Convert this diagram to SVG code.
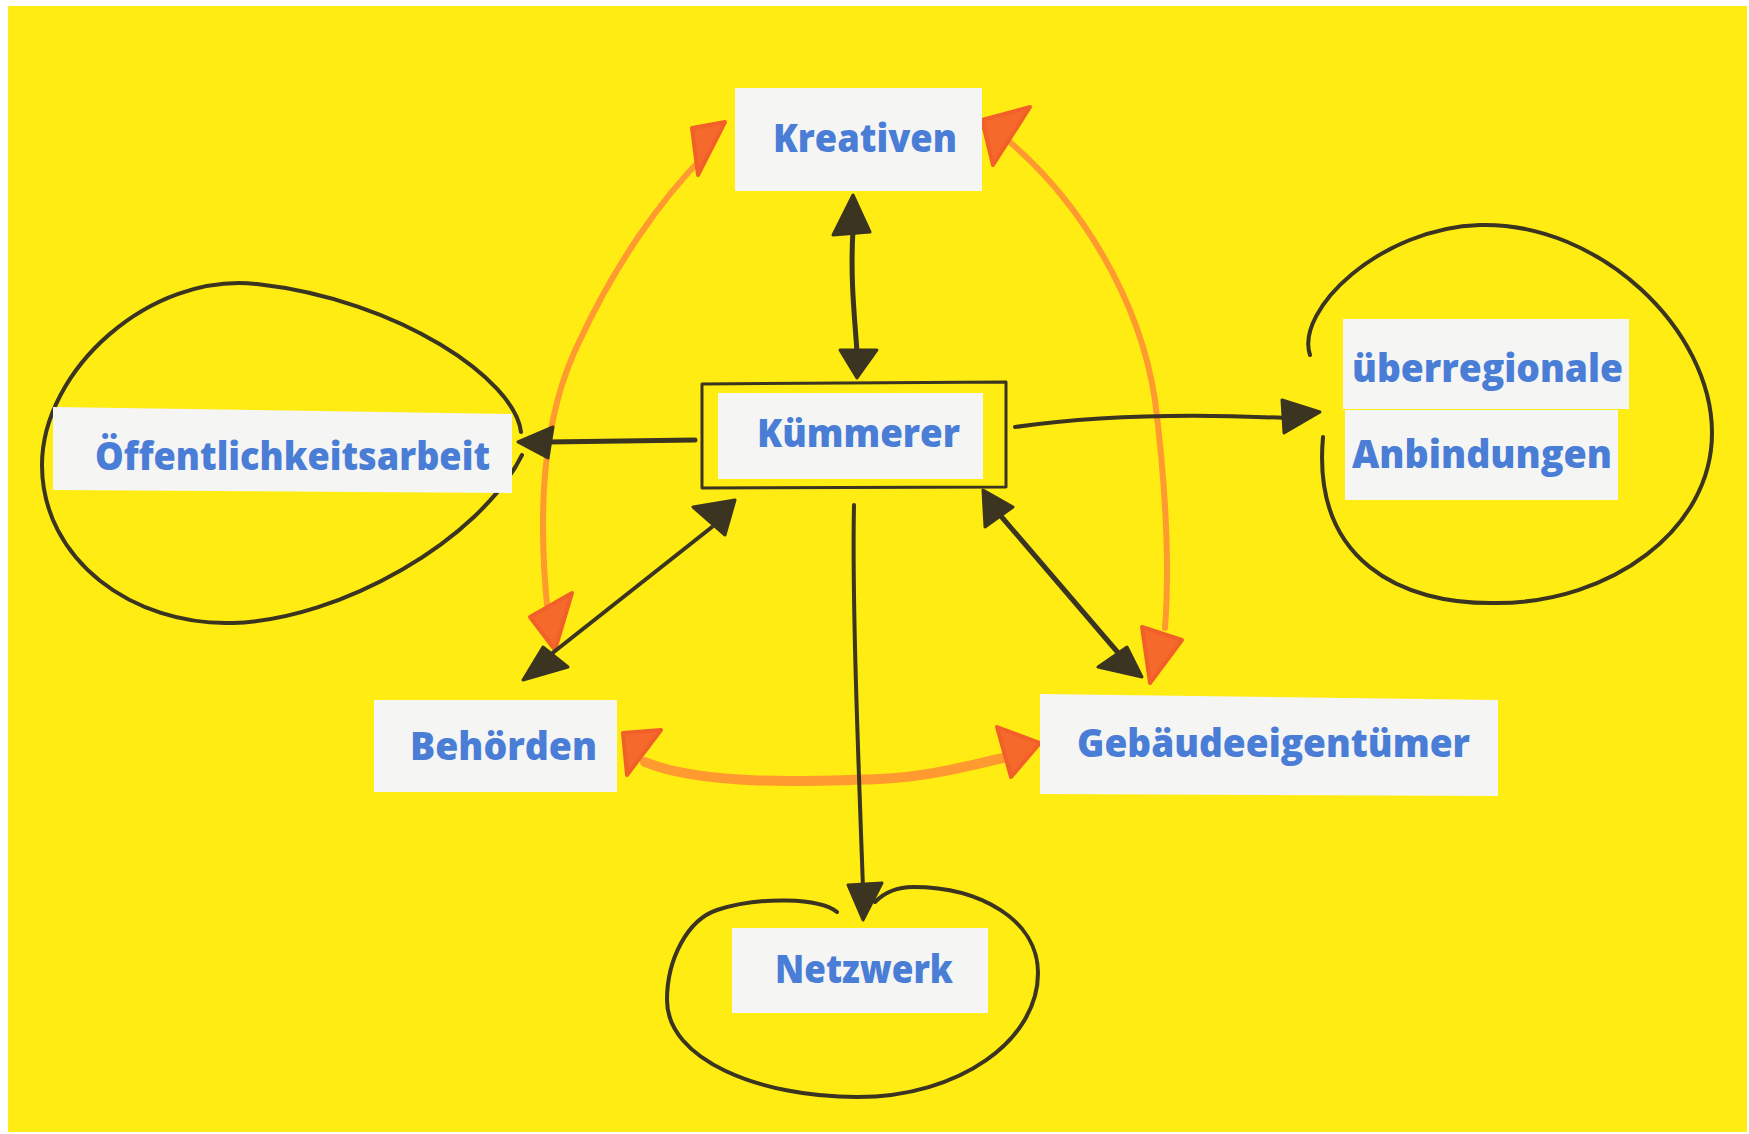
<svg xmlns="http://www.w3.org/2000/svg" width="1749" height="1134" viewBox="0 0 1749 1134">
<defs>
<style>
.box{fill:#F5F5F4}
.lbl{font-family:"Open Sans","Liberation Sans",sans-serif;font-weight:800;font-size:38px;fill:#4A7DD6}
.ink{fill:none;stroke:#3A3420;stroke-width:4;stroke-linecap:round;stroke-linejoin:round}
.shaft{stroke-width:5}
.inkhead{fill:#3A3420;stroke:#3A3420;stroke-width:3;stroke-linejoin:round}
.orange{fill:none;stroke:#FF9A30;stroke-width:6;stroke-linecap:round}
.orangewide{fill:none;stroke:#FF9A30;stroke-width:10;stroke-linecap:round}
.ohead{fill:#F56A2A;stroke:#F2602A;stroke-width:4;stroke-linejoin:round}
</style>
</defs>
<rect x="0" y="0" width="1749" height="1134" fill="#FFFFFF"/>
<rect x="8" y="6" width="1739" height="1126" fill="#FFEC12"/>

<g id="connectors">
  <!-- self loops -->
  <path class="ink" d="M521,432 C515,380 400,300 257,284 C150,272 42,370 42,465 C42,560 133,626 233,623 C340,620 480,540 522,455"/>
  <path class="ink" d="M1310,355 C1295,310 1380,228 1480,225 C1600,222 1712,330 1712,433 C1712,530 1610,603 1497,603 C1400,605 1312,560 1323,437"/>
  <path class="ink" d="M837,912 C820,898 760,896 717,910 C687,920 667,960 667,1000 C667,1060 760,1097 857,1097 C960,1097 1038,1040 1038,973 C1038,920 980,887 913,887 C895,887 882,895 875,902"/>

  <!-- orange arcs -->
  <path class="orange" d="M548,615 C538,520 540,420 580,340 C615,265 660,200 705,155"/>
  <polygon class="ohead" points="692,128 725,122 698,175"/>
  <polygon class="ohead" points="530,617 572,593 555,650"/>
  <path class="orange" d="M1005,138 C1080,200 1140,300 1155,400 C1165,480 1170,560 1165,628"/>
  <polygon class="ohead" points="982,120 1030,107 993,165"/>
  <polygon class="ohead" points="1142,627 1182,640 1150,683"/>
  <path class="orangewide" d="M645,762 C700,785 800,782 880,779 C930,777 970,765 1003,758"/>
  <polygon class="ohead" points="623,733 661,730 627,775"/>
  <polygon class="ohead" points="997,727 1040,743 1011,777"/>

  <!-- black arrows -->
  <path class="ink shaft" d="M853,230 C850,280 855,320 857,352"/>
  <polygon class="inkhead" points="853,195 833,235 870,232"/>
  <polygon class="inkhead" points="857,378 840,350 877,350"/>

  <path class="ink shaft" d="M695,440 L548,442"/>
  <polygon class="inkhead" points="518,442 553,427 548,458"/>

  <path class="ink" d="M1015,427 C1100,415 1200,414 1285,418"/>
  <polygon class="inkhead" points="1320,412 1282,400 1284,433"/>

  <path class="ink" d="M712,527 L550,655"/>
  <polygon class="inkhead" points="693,507 735,500 725,535"/>
  <polygon class="inkhead" points="523,680 543,647 568,667"/>

  <path class="ink shaft" d="M1000,515 L1120,655"/>
  <polygon class="inkhead" points="983,490 985,527 1013,507"/>
  <polygon class="inkhead" points="1142,677 1098,667 1127,647"/>

  <path class="ink" d="M854,505 C852,600 858,750 863,888"/>
  <polygon class="inkhead" points="863,920 848,885 882,883"/>
</g>

<g id="kreativen">
  <rect class="box" x="735" y="88" width="247" height="103"/>
  <text class="lbl" x="773" y="152" textLength="184" lengthAdjust="spacingAndGlyphs">Kreativen</text>
</g>

<g id="kuemmerer">
  <path class="ink" style="stroke-width:3" d="M702,384 L1006,382 L1006,487 L702,488 Z"/>
  <rect class="box" x="718" y="393" width="265" height="86"/>
  <text class="lbl" x="757" y="447" textLength="203" lengthAdjust="spacingAndGlyphs">Kümmerer</text>
</g>

<g id="oeffentlichkeitsarbeit">
  <polygon class="box" points="53,407 512,414 512,493 53,490"/>
  <text class="lbl" x="95" y="470" textLength="395" lengthAdjust="spacingAndGlyphs">Öffentlichkeitsarbeit</text>
</g>

<g id="ueberregionale-anbindungen">
  <rect class="box" x="1343" y="319" width="286" height="90"/>
  <rect class="box" x="1345" y="410" width="273" height="90"/>
  <text class="lbl" x="1352" y="382" textLength="271" lengthAdjust="spacingAndGlyphs">überregionale</text>
  <text class="lbl" x="1352" y="468" textLength="260" lengthAdjust="spacingAndGlyphs">Anbindungen</text>
</g>

<g id="behoerden">
  <rect class="box" x="374" y="700" width="243" height="92"/>
  <text class="lbl" x="410" y="760" textLength="187" lengthAdjust="spacingAndGlyphs">Behörden</text>
</g>

<g id="gebaeudeeigentuemer">
  <polygon class="box" points="1040,694 1498,700 1498,796 1040,794"/>
  <text class="lbl" x="1077" y="757" textLength="393" lengthAdjust="spacingAndGlyphs">Gebäudeeigentümer</text>
</g>

<g id="netzwerk">
  <rect class="box" x="732" y="928" width="256" height="85"/>
  <text class="lbl" x="775" y="983" textLength="178" lengthAdjust="spacingAndGlyphs">Netzwerk</text>
</g>
</svg>
